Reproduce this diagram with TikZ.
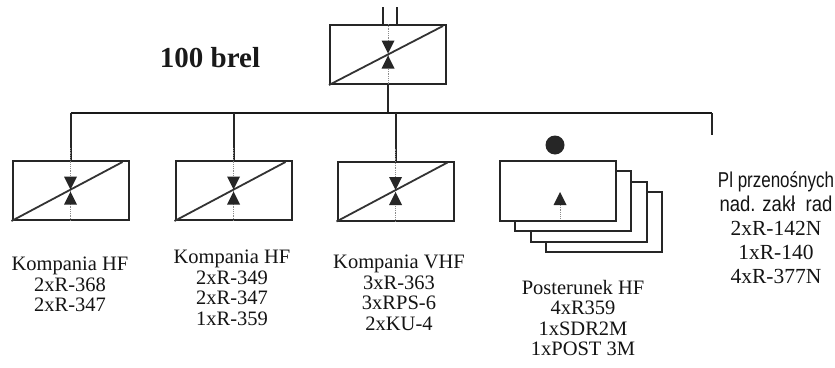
\documentclass[tikz,border=0pt]{standalone}
\usepackage{fontspec}
\setmainfont{Liberation Serif}
\newfontfamily\narrowsans[FakeStretch=0.86]{Liberation Sans}
\newfontfamily\narrowersans[FakeStretch=0.79]{Liberation Sans}
\begin{document}
\begin{tikzpicture}[x=1pt,y=-1pt,
  unitbox/.style={draw=black!85, line width=2pt, minimum width=116pt, minimum height=59pt, inner sep=0pt},
  backbox/.style={draw=black!85, line width=1.8pt, fill=white, minimum width=116pt, minimum height=60pt, inner sep=0pt},
  link/.style={draw=black!85, line width=2pt},
  bus/.style={draw=black!90, line width=2.6pt},
  diag/.style={draw=black!80, line width=1.8pt},
  thin/.style={draw=black!45, line width=0.8pt, densely dotted},
  lbl/.style={align=center, inner sep=0pt, anchor=north, text=black!92, font=\fontsize{20.5}{20.5}\selectfont},
  hg/.pic={\fill[black!85] (-6.5,-14)--(6.5,-14)--(0,-1)--cycle;
           \fill[black!85] (-6.5,14)--(6.5,14)--(0,1)--cycle;}
]
\useasboundingbox (0,0) rectangle (835,367);
\fill[white] (0,0) rectangle (835,367);

% top box
\node[unitbox] (top) at (388,54.5) {};
\coordinate (in1) at (383,7);
\coordinate (in2) at (397,7);
\draw[link] (in1) -- (in1 |- top.north);
\draw[link] (in2) -- (in2 |- top.north);
\draw[thin] (top.north) -- (top.south);
\draw[diag] (top.south west) -- ([xshift=-4pt,yshift=-2pt]top.north east);
\pic at (top.center) {hg};

\node[font=\fontsize{29}{30}\selectfont\bfseries, text=black!90, inner sep=0pt] (title) at (210,58) {100 brel};

% bus
\coordinate (busL) at (70.5,113);
\coordinate (busR) at (712,113);
\draw[link] (top.south) -- (top.south |- busL);
\draw[bus] (busL) -- (busR);

% units
\node[unitbox] (b1) at (70.5,190.5) {};
\node[unitbox] (b2) at (233.5,190.5) {};
\node[unitbox] (b3) at (395.5,191) {};
\foreach \b in {b1,b2,b3}{
  \draw[link] (\b.center |- busL) -- (\b.north);
  \draw[link] (\b.north) -- ([yshift=12pt]\b.north);
  \draw[thin] ([yshift=12pt]\b.north) -- (\b.south);
  \draw[diag] (\b.south west) -- ([xshift=-7pt,yshift=-2pt]\b.north east);
  \pic at (\b.center) {hg};
}

% stacked posterunek
\node[backbox] (s4) at (604,222) {};
\node[backbox] (s3) at (589,212) {};
\node[backbox] (s2) at (573,201) {};
\node[backbox] (s1) at (558,191) {};
\fill[black!85] (555,145) circle (9.5pt);
\coordinate (ar) at (560,205);
\fill[black!85] (553.5,205)--(566.5,205)--(560,192)--cycle;
\draw[thin] (ar) -- (560,218);

% right drop
\coordinate (rd) at (712,135);
\draw[link] (busR) -- (rd);

% labels
\node[lbl] (t1) at (70,257) {Kompania HF\\2xR-368\\2xR-347};
\node[lbl] (t2) at (232,250) {Kompania HF\\2xR-349\\2xR-347\\1xR-359};
\node[lbl] (t3) at (399,255) {Kompania VHF\\3xR-363\\3xRPS-6\\2xKU-4};
\node[lbl] (t4) at (583,280) {Posterunek HF\\4xR359\\1xSDR2M\\1xPOST 3M};
\node[lbl, font=\fontsize{21.5}{24}\selectfont] (t5) at (776,171) {{\narrowersans Pl przenośnych}\\{\narrowsans nad. zakł\ \ rad}\\2xR-142N\\1xR-140\\4xR-377N};
\end{tikzpicture}
\end{document}
